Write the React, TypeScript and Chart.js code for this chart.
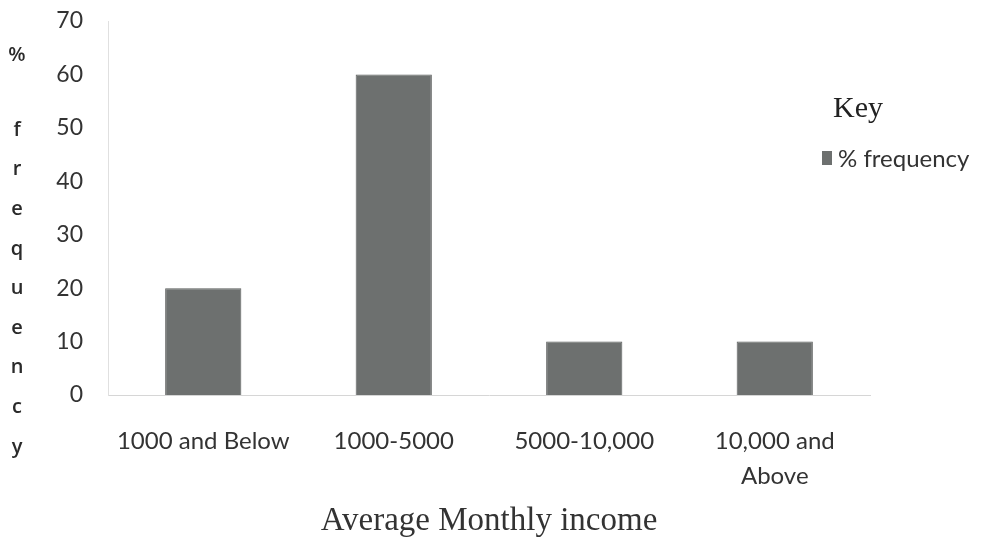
import React, { useEffect, useRef } from "react";
import { Chart, registerables } from "chart.js";

Chart.register(...registerables);

// Income groups and share of respondents in each (%)
const incomeGroups: (string | string[])[] = [
  "1000 and Below",
  "1000-5000",
  "5000-10,000",
  ["10,000 and", "Above"],
];
const frequencyPct = [20, 60, 10, 10];
const yTicks = [0, 10, 20, 30, 40, 50, 60, 70];

const seriesLabel = "% frequency";
const legendTitle = "Key";
const xTitle = "Average Monthly income";
const yTitle = "% frequency";

const SANS = "Lato, 'Liberation Sans', sans-serif";
const SERIF = "'Liberation Serif', 'DejaVu Serif', serif";
const BAR = "#6d706f";

// Vertical stacked y-axis title, one character per line
const stackedTitle = {
  id: "stackedTitle",
  afterDraw(chart: Chart) {
    const ctx = chart.ctx;
    ctx.save();
    ctx.fillStyle = "#2a2a2a";
    ctx.font = `600 20px 'Open Sans', Lato, sans-serif`;
    ctx.textAlign = "center";
    ctx.textBaseline = "middle";
    let y = 55;
    yTitle.split("").forEach((c, i) => {
      if (c === " ") return;
      ctx.fillText(c, 17, y);
      y += i === 0 ? 75 : 39.6;
    });
    ctx.restore();
  },
};

// Legend box with its "Key" heading, drawn over the plot on the right
const keyLegend = {
  id: "keyLegend",
  afterDraw(chart: Chart) {
    const ctx = chart.ctx;
    ctx.save();
    ctx.fillStyle = "#222";
    ctx.font = `30px ${SERIF}`;
    ctx.textAlign = "left";
    ctx.textBaseline = "middle";
    ctx.fillText(legendTitle, 833, 109);
    ctx.fillStyle = BAR;
    ctx.fillRect(822, 151, 10, 14);
    ctx.fillStyle = "#333";
    ctx.font = `24px ${SANS}`;
    ctx.fillText(chart.data.datasets[0].label as string, 838, 159);
    ctx.restore();
  },
};

export default function App() {
  const ref = useRef<HTMLCanvasElement>(null);

  useEffect(() => {
    if (!ref.current) return;
    const chart = new Chart(ref.current, {
      type: "bar",
      data: {
        labels: incomeGroups,
        datasets: [
          {
            label: seriesLabel,
            data: frequencyPct,
            backgroundColor: BAR,
            borderColor: "#5a5c5b",
            borderWidth: 1,
            barPercentage: 0.4,
            categoryPercentage: 1,
          },
        ],
      },
      options: {
        animation: false,
        responsive: false,
        maintainAspectRatio: false,
        layout: { padding: { top: 21, right: 111, left: 0, bottom: 0 } },
        plugins: {
          legend: { display: false },
          tooltip: { enabled: false },
        },
        scales: {
          x: {
            grid: { display: false, drawTicks: false },
            border: { display: true, color: "#d6d6d6", dash: [3, 2], width: 1 },
            ticks: {
              color: "#333",
              font: { family: SANS, size: 24, lineHeight: 1.45 },
              padding: 29,
              maxRotation: 0,
              autoSkip: false,
            },
            title: {
              display: true,
              text: xTitle,
              color: "#333",
              font: { family: SERIF, size: 33 },
              padding: { top: 0, bottom: 3 },
            },
            afterFit(scale: any) {
              scale.height = 149;
              scale.paddingLeft = 0;
              scale.paddingRight = 0;
            },
          },
          y: {
            min: 0,
            max: 70,
            afterBuildTicks(scale: any) {
              scale.ticks = yTicks.map((v) => ({ value: v }));
            },
            grid: { display: false, drawTicks: false },
            border: { display: true, color: "#e0e0e0", dash: [2, 3], width: 1 },
            ticks: {
              color: "#333",
              font: { family: SANS, size: 23 },
              padding: 25,
            },
            afterFit(scale: any) {
              scale.width = 108;
              scale.paddingTop = 0;
              scale.paddingBottom = 0;
            },
          },
        },
      },
      plugins: [stackedTitle, keyLegend],
    });
    return () => chart.destroy();
  }, []);

  return (
    <div style={{ position: "fixed", left: 0, top: 0, width: 981, height: 544, background: "#fff" }}>
      <canvas ref={ref} width={981} height={544} style={{ width: 981, height: 544 }} />
    </div>
  );
}
